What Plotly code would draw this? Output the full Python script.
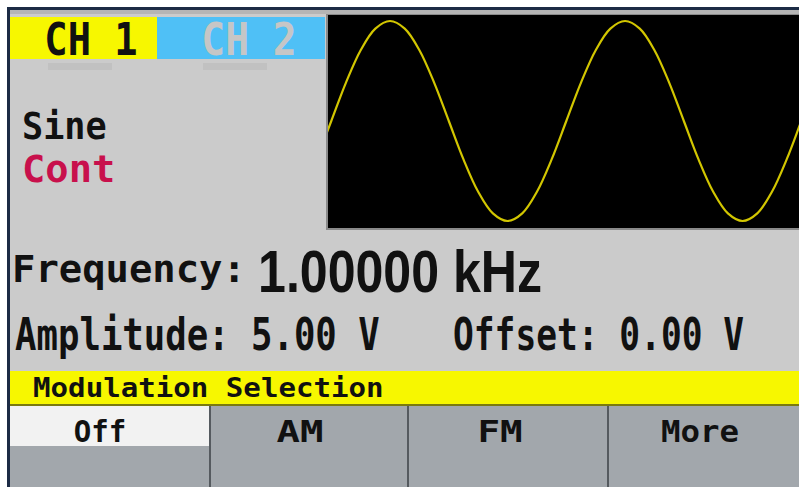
import json
import plotly.graph_objects as go

# ---------------- data ----------------
time_ms = [-0.0625, 0.0, 0.0625, 0.125, 0.1875, 0.25, 0.3125, 0.375, 0.4375, 0.5,
           0.5625, 0.625, 0.6875, 0.75, 0.8125, 0.875, 0.9375, 1.0, 1.0625, 1.125,
           1.1875, 1.25, 1.3125, 1.375, 1.4375, 1.5, 1.5625, 1.625, 1.6875, 1.75,
           1.8125, 1.875, 1.9375, 2.0, 2.0625]
volts = [-0.96, 0.00, 0.96, 1.77, 2.31, 2.50, 2.31, 1.77, 0.96, 0.00,
         -0.96, -1.77, -2.31, -2.50, -2.31, -1.77, -0.96, 0.00, 0.96, 1.77,
         2.31, 2.50, 2.31, 1.77, 0.96, 0.00, -0.96, -1.77, -2.31, -2.50,
         -2.31, -1.77, -0.96, 0.00, 0.96]

channel_labels = ["CH 1", "CH 2"]
waveform_label = "Sine"
mode_label = "Cont"
freq_label = "Frequency:"
freq_value = "1.00000 kHz"
amp_label = "Amplitude: 5.00 V"
offset_label = "Offset: 0.00 V"
menu_title = "Modulation Selection"
softkeys = ["Off", "AM", "FM", "More"]

# ---------------- geometry helpers ----------------
W, H = 799, 487


def px(x):
    return x / W


def py(y):
    return 1 - y / H


def rect(x0, y0, x1, y1, color):
    return dict(type="rect", xref="paper", yref="paper",
                x0=px(x0), x1=px(x1), y0=py(y1), y1=py(y0),
                fillcolor=color, line=dict(width=0), layer="below")


MONO = "DejaVu Sans Mono"
SANS = "Liberation Sans, Arial, sans-serif"

annotations = []
h_scale = []      # horizontal squeeze/stretch applied to each label (display font is tall & narrow)
anchors = []


def ann(text, x, y, size, color="#111111", xanchor="left", family=MONO, k=1.0):
    annotations.append(dict(text=text, xref="paper", yref="paper", x=px(x), y=py(y),
                            xanchor=xanchor, yanchor="middle", showarrow=False,
                            font=dict(family=family, size=size, color=color, weight="bold")))
    h_scale.append(k)
    anchors.append(xanchor)


shapes = [
    rect(0, 0, W, H, "#ffffff"),
    rect(7, 7, W, H, "#1c2b45"),          # dark frame
    rect(10, 10, W, H, "#cbcbcb"),        # panel
    rect(10, 10, W, 14, "#b5b5b5"),
    rect(10, 17, 157, 59, "#f7f700"),     # CH1 tab
    rect(157, 17, 325, 59, "#4fc0f6"),    # CH2 tab
    rect(48, 63, 112, 70, "#c1c1c1"),
    rect(203, 63, 267, 70, "#c1c1c1"),
    rect(326, 14, W, 230, "#8a8a8a"),     # scope frame
    rect(328, 15, W, 228, "#000000"),     # scope screen
    rect(10, 371, W, 406, "#f7f700"),     # menu title bar
    rect(10, 404, W, 406, "#7a7a10"),
    rect(10, 406, W, H, "#a2a7ac"),       # softkey row
    rect(10, 406, 209, 446, "#f2f2f2"),   # selected softkey
    rect(209, 406, 211, H, "#555a5f"),
    rect(407, 406, 409, H, "#555a5f"),
    rect(607, 406, 609, H, "#555a5f"),
]

ann(channel_labels[0], 91, 39, 44, "#111111", "center", k=0.88)
ann(channel_labels[1], 249, 39, 44, "#c6c6c6", "center", k=0.9)
ann(waveform_label, 20, 127, 37, k=0.95)
ann(mode_label, 20, 169, 38, "#c8104c", k=1.02)
ann(freq_label, 10, 269, 37, k=1.05)
ann(freq_value, 256, 271, 60, family=SANS, k=0.835)
ann(amp_label, 13, 334, 44, k=0.81)
ann(offset_label, 451, 334, 44, k=0.785)
ann(menu_title, 31, 388, 26, k=1.12)
key_scale = [0.97, 1.3, 1.25, 1.08]
for i, key in enumerate(softkeys):
    ann(key, 100 + 200 * i, 431, 30, "#111111", "center", k=key_scale[i])

fig = go.Figure()
fig.add_trace(go.Scatter(x=time_ms, y=volts, mode="lines",
                         line=dict(color="#d2c600", width=2.2, shape="spline"),
                         hoverinfo="skip", showlegend=False))

fig.update_layout(
    width=W, height=H,
    margin=dict(l=0, r=0, t=0, b=0),
    paper_bgcolor="#ffffff",
    plot_bgcolor="rgba(0,0,0,0)",
    xaxis=dict(domain=[px(328), 1], range=[-0.014, 1.990], visible=False, fixedrange=True),
    yaxis=dict(domain=[py(228), py(15)], range=[-2.675, 2.65], visible=False, fixedrange=True),
    shapes=shapes,
    annotations=annotations,
    showlegend=False,
)

js = """
document.body.style.margin='0';
document.body.style.overflow='hidden';
var gd=document.getElementById('{plot_id}');
var S=__S__, A=__A__;
S.forEach(function(k,i){
  if(k===1) return;
  var t=gd.querySelector('g.annotation[data-index="'+i+'"] text.annotation-text');
  if(!t) return;
  var b=t.getBBox();
  var o=(A[i]==='center') ? b.x+b.width/2 : b.x;
  t.setAttribute('transform','translate('+o+',0) scale('+k+',1) translate('+(-o)+',0)');
});
""".replace("__S__", json.dumps(h_scale)).replace("__A__", json.dumps(anchors))

fig.write_html("out.html", config={"displayModeBar": False}, post_script=js)
